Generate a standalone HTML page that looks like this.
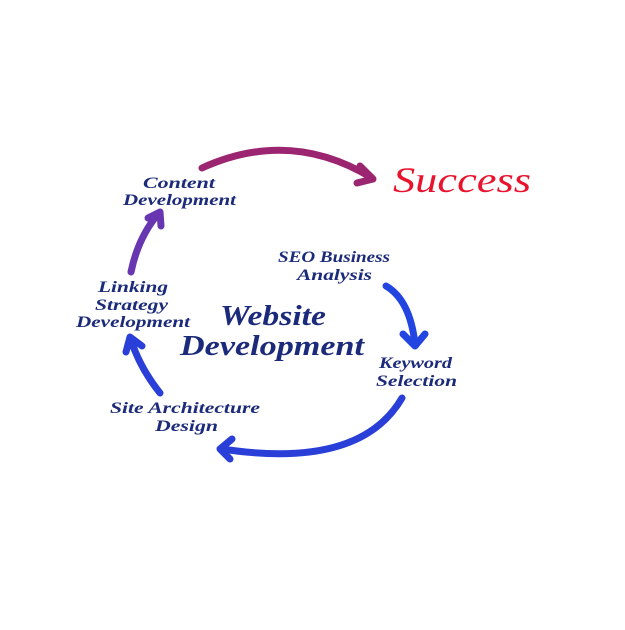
<!DOCTYPE html>
<html><head><style>
body{margin:0;background:#fff;width:625px;height:625px;overflow:hidden}
svg text{font-family:"Liberation Serif",serif;font-style:italic;font-weight:bold;fill:#1b2a7a}
</style></head><body>
<svg width="625" height="625" viewBox="0 0 625 625">
<g fill="none" stroke-linecap="round" stroke-linejoin="round" stroke-width="7">
<path d="M202,168 Q290,128 372,178" stroke="#9b2570"/>
<path d="M360,166 L373,179 L357,183" stroke="#9b2570"/>
<path d="M131,272 Q138,238 158,214" stroke="#6736b0"/>
<path d="M148,218 L160,212 L161,226" stroke="#6736b0"/>
<path d="M386,286 Q410,300 415,344" stroke="#2244e0"/>
<path d="M403,334 L415,346 L425,334" stroke="#2244e0"/>
<path d="M402,398 Q360,470 222,449" stroke="#2a3fd8"/>
<path d="M232,439 L220,449 L230,459" stroke="#2a3fd8"/>
<path d="M160,393 Q140,368 131,340" stroke="#2a3fd8"/>
<path d="M126,352 L130,337 L142,346" stroke="#2a3fd8"/>
</g>
<text x="393" y="192" font-size="36" textLength="138" lengthAdjust="spacingAndGlyphs" style="fill:#e8142e;font-weight:normal">Success</text>
<text x="143" y="188" font-size="16" textLength="72" lengthAdjust="spacingAndGlyphs">Content</text>
<text x="123" y="205" font-size="16" textLength="113" lengthAdjust="spacingAndGlyphs">Development</text>
<text x="278" y="262" font-size="16" textLength="112" lengthAdjust="spacingAndGlyphs">SEO Business</text>
<text x="297" y="280" font-size="16" textLength="75" lengthAdjust="spacingAndGlyphs">Analysis</text>
<text x="98" y="292" font-size="16" textLength="70" lengthAdjust="spacingAndGlyphs">Linking</text>
<text x="95" y="310" font-size="16" textLength="73" lengthAdjust="spacingAndGlyphs">Strategy</text>
<text x="76" y="327" font-size="16" textLength="114" lengthAdjust="spacingAndGlyphs">Development</text>
<text x="220" y="325" font-size="28" textLength="106" lengthAdjust="spacingAndGlyphs">Website</text>
<text x="180" y="355" font-size="28" textLength="184" lengthAdjust="spacingAndGlyphs">Development</text>
<text x="379" y="368" font-size="16" textLength="73" lengthAdjust="spacingAndGlyphs">Keyword</text>
<text x="376" y="386" font-size="16" textLength="81" lengthAdjust="spacingAndGlyphs">Selection</text>
<text x="110" y="413" font-size="16" textLength="150" lengthAdjust="spacingAndGlyphs">Site Architecture</text>
<text x="155" y="431" font-size="16" textLength="63" lengthAdjust="spacingAndGlyphs">Design</text>
</svg>
</body></html>
